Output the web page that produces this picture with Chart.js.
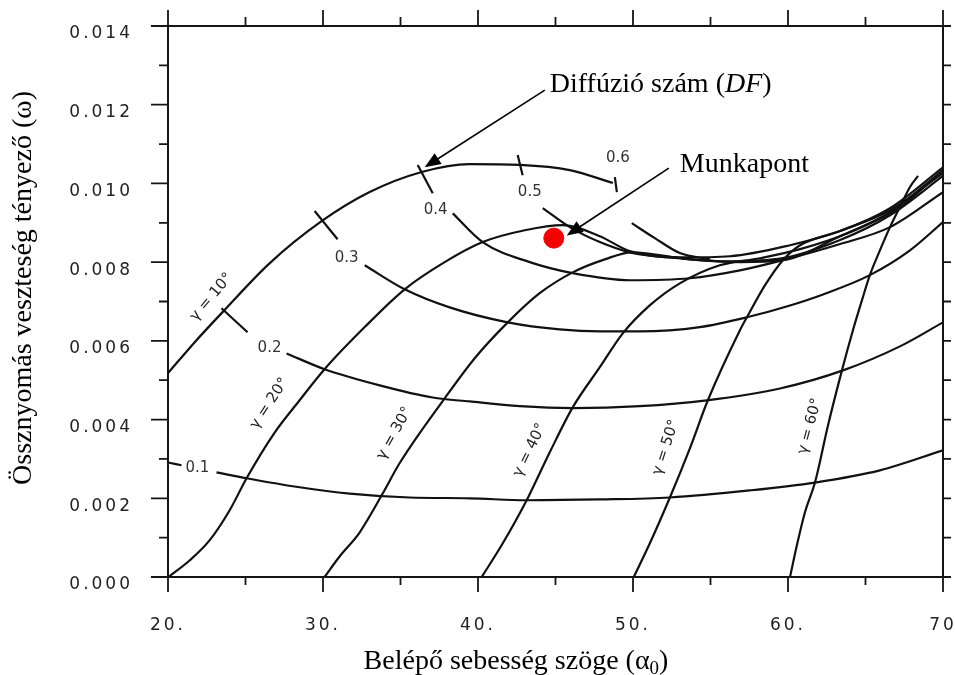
<!DOCTYPE html>
<html>
<head>
<meta charset="utf-8">
<title>Össznyomás veszteség tényező</title>
<script src="https://cdn.jsdelivr.net/npm/chart.js@4.4.1/dist/chart.umd.min.js"></script>
<style>
  html, body { margin: 0; padding: 0; background: #fff; }
</style>
</head>
<body>
<canvas id="lossChart" width="955" height="675"></canvas>
<script>
// axis ticks
const xTicks = [20, 30, 40, 50, 60, 70];
const xTickLabels = ["20.", "30.", "40.", "50.", "60.", "70"];
const yTicks = [0, 0.002, 0.004, 0.006, 0.008, 0.010, 0.012, 0.014];
const yTickLabels = ["0.000", "0.002", "0.004", "0.006", "0.008", "0.010", "0.012", "0.014"];

// stagger angle curves (gamma), alpha0 vs omega
const gamma10Alpha = [20.0, 21.71, 23.52, 26.55, 29.91, 33.01, 36.37, 39.46, 42.69, 45.92, 48.70];
const gamma10Omega = [0.00518, 0.00596, 0.00673, 0.00797, 0.00904, 0.00978, 0.01029, 0.01049, 0.01047, 0.01034, 0.01001];

const gamma20Alpha = [20.03, 21.39, 22.68, 23.97, 25.07, 26.88, 28.49, 30.10, 32.69, 35.27, 37.85, 40.30, 43.02, 45.47, 47.86, 49.79, 53.02, 56.25, 60.13, 63.36, 66.58, 70.0];
const gamma20Omega = [0, 0.00042, 0.00093, 0.00169, 0.00251, 0.00367, 0.00449, 0.00528, 0.00635, 0.00731, 0.00800, 0.00851, 0.00881, 0.00894, 0.00866, 0.00828, 0.00812, 0.00815, 0.00843, 0.00879, 0.00937, 0.01041];

const gamma30Alpha = [30.10, 31.07, 32.36, 33.85, 34.94, 37.85, 39.79, 41.92, 43.98, 46.11, 48.18, 49.92, 53.67, 56.90, 59.67, 63.36, 66.58, 70.0];
const gamma30Omega = [0, 0.00052, 0.00113, 0.00212, 0.00289, 0.00454, 0.00556, 0.00647, 0.00721, 0.00774, 0.00807, 0.00825, 0.00807, 0.00800, 0.00805, 0.00866, 0.00927, 0.01034];

const gamma40Alpha = [40.24, 41.59, 43.14, 44.63, 46.11, 47.86, 49.34, 51.08, 53.02, 55.60, 58.19, 60.78, 64.00, 67.22, 70.0];
const gamma40Omega = [0, 0.00085, 0.00195, 0.00317, 0.00431, 0.00533, 0.00619, 0.00690, 0.00746, 0.00792, 0.00810, 0.00833, 0.00876, 0.00940, 0.01034];

const gamma50Alpha = [50.05, 51.08, 52.38, 53.67, 54.83, 56.90, 57.35, 58.51, 59.67, 60.78, 63.36, 66.58, 70.0];
const gamma50Omega = [0, 0.00085, 0.00202, 0.00327, 0.00449, 0.00627, 0.00660, 0.00741, 0.00805, 0.00843, 0.00879, 0.00932, 0.01026];

const gamma60Alpha = [60.13, 60.57, 61.09, 61.74, 62.58, 63.48, 64.19, 64.77, 65.28, 65.93, 66.58, 67.22, 67.87, 68.39];
const gamma60Omega = [0, 0.00080, 0.00164, 0.00240, 0.00385, 0.00525, 0.00627, 0.00703, 0.00767, 0.00830, 0.00889, 0.00940, 0.00991, 0.01019];

// extra branch near the working point
const branchAlpha = [49.92, 51.41, 53.02, 54.96];
const branchOmega = [0.00899, 0.00861, 0.00823, 0.00807];

// diffusion factor curves (DF)
const df01Alpha = [23.13, 25.07, 28.49, 31.72, 35.59, 39.46, 43.14, 47.86, 52.38, 57.54, 61.74, 65.93, 70.0];
const df01Omega = [0.00266, 0.00251, 0.00228, 0.00212, 0.00202, 0.00200, 0.00195, 0.00197, 0.00202, 0.00220, 0.00240, 0.00271, 0.00322];

const df02Alpha = [27.65, 30.10, 33.66, 37.08, 39.46, 42.69, 46.11, 50.44, 54.76, 59.48, 63.55, 67.22, 70.0];
const df02Omega = [0.00568, 0.00528, 0.00487, 0.00456, 0.00446, 0.00434, 0.00429, 0.00434, 0.00449, 0.00479, 0.00525, 0.00586, 0.00647];

const df03Alpha = [32.69, 35.27, 38.17, 41.92, 45.27, 47.86, 50.44, 54.31, 57.35, 60.13, 62.26, 65.28, 67.87, 70.0];
const df03Omega = [0.00792, 0.00731, 0.00685, 0.00647, 0.00629, 0.00624, 0.00624, 0.00635, 0.00660, 0.00690, 0.00718, 0.00767, 0.00830, 0.00902];

const df04Alpha = [38.37, 40.30, 43.34, 46.11, 49.79, 53.67, 56.90, 59.67, 63.36, 66.58, 70.0];
const df04Omega = [0.00924, 0.00851, 0.00800, 0.00772, 0.00754, 0.00759, 0.00779, 0.00805, 0.00846, 0.00889, 0.00978];

const df05Alpha = [44.18, 45.92, 47.86, 49.79, 53.02, 56.25, 59.67, 63.36, 66.58, 70.0];
const df05Omega = [0.00937, 0.00889, 0.00851, 0.00825, 0.00810, 0.00802, 0.00810, 0.00856, 0.00919, 0.01019];

// short DF marks crossing the gamma = 10 curve: [a0, w0, a1, w1]
const dfMarks = [
  [20.0, 0.00291, 20.87, 0.00284],
  [23.45, 0.00683, 25.13, 0.00622],
  [29.46, 0.00930, 30.94, 0.00858],
  [36.11, 0.01047, 37.08, 0.00975],
  [42.56, 0.01072, 42.88, 0.01021],
  [48.83, 0.01016, 48.96, 0.00978]
];

// curve labels
const dfLabels = ["0.1", "0.2", "0.3", "0.4", "0.5", "0.6"];
const dfLabelAlpha = [21.90, 26.55, 31.52, 37.27, 43.34, 49.02];
const dfLabelOmega = [0.00276, 0.00581, 0.00810, 0.00932, 0.00978, 0.01064];

const gammaLabels = ["γ = 10°", "γ = 20°", "γ = 30°", "γ = 40°", "γ = 50°", "γ = 60°"];
const gammaLabelAlpha = [22.81, 26.55, 34.62, 43.34, 52.12, 61.42];
const gammaLabelOmega = [0.00711, 0.00441, 0.00365, 0.00322, 0.00329, 0.00383];
const gammaLabelAngle = [-50, -57, -61, -64, -72, -75];

// working point
const workAlpha = [44.89];
const workOmega = [0.00861];

const pts = (xs, ys) => xs.map((x, i) => ({ x: x, y: ys[i] }));

function curve(label, xs, ys) {
    return {
        label: label,
        data: pts(xs, ys),
        showLine: true,
        borderColor: "#111",
        borderWidth: 2.2,
        pointRadius: 0,
        cubicInterpolationMode: "monotone",
        fill: false
    };
}

function drawArrow(ctx, x0, y0, x1, y1) {
    const ang = Math.atan2(y1 - y0, x1 - x0);
    const len = 16, half = 6.5;
    const c = Math.cos(ang), s = Math.sin(ang);
    ctx.beginPath();
    ctx.moveTo(x0, y0);
    ctx.lineTo(x1 - len * 0.7 * c, y1 - len * 0.7 * s);
    ctx.stroke();
    ctx.beginPath();
    ctx.moveTo(x1, y1);
    ctx.lineTo(x1 - len * c + half * s, y1 - len * s - half * c);
    ctx.lineTo(x1 - len * c - half * s, y1 - len * s + half * c);
    ctx.closePath();
    ctx.fill();
}

// drop the extra room Chart.js keeps for half-labels, the frame is fixed
function fixPadding(s) {
    s.paddingLeft = 0;
    s.paddingRight = 0;
    s.paddingTop = 0;
    s.paddingBottom = 0;
}

const framePlugin = {
    id: "framePlugin",
    beforeDraw(chart) {
        chart.ctx.letterSpacing = "3px";
    },
    beforeDatasetsDraw(chart) {
        const { ctx, chartArea: a, scales: { x, y } } = chart;
        ctx.letterSpacing = "0px";
        ctx.save();
        ctx.strokeStyle = "#151515";
        ctx.lineWidth = 2;
        ctx.strokeRect(a.left, a.top, a.right - a.left, a.bottom - a.top);
        ctx.lineWidth = 1.8;
        ctx.beginPath();
        for (let v = 20; v <= 70; v += 5) {
            const px = x.getPixelForValue(v);
            const major = v % 10 === 0;
            ctx.moveTo(px, a.bottom);
            ctx.lineTo(px, a.bottom + (major ? 15 : 8));
            ctx.moveTo(px, a.top);
            ctx.lineTo(px, a.top - (major ? 16 : 9));
        }
        for (let k = 0; k <= 14; k++) {
            const py = y.getPixelForValue(k / 1000);
            ctx.moveTo(a.left, py);
            ctx.lineTo(a.left - (k % 2 === 0 ? 17 : 9), py);
            ctx.moveTo(a.right, py);
            ctx.lineTo(a.right + 8, py);
        }
        ctx.stroke();
        ctx.restore();
    },
    afterDatasetsDraw(chart) {
        const { ctx, scales: { x, y } } = chart;
        ctx.save();

        // DF labels
        ctx.font = '15px "DejaVu Sans"';
        ctx.fillStyle = "#333";
        ctx.textAlign = "center";
        ctx.textBaseline = "middle";
        dfLabels.forEach((t, i) => {
            ctx.fillText(t, x.getPixelForValue(dfLabelAlpha[i]), y.getPixelForValue(dfLabelOmega[i]));
        });

        // gamma labels, rotated along the curves
        ctx.font = '15px "DejaVu Sans"';
        ctx.fillStyle = "#222";
        gammaLabels.forEach((t, i) => {
            ctx.save();
            ctx.translate(x.getPixelForValue(gammaLabelAlpha[i]), y.getPixelForValue(gammaLabelOmega[i]));
            ctx.rotate(gammaLabelAngle[i] * Math.PI / 180);
            ctx.fillText(t, 0, 0);
            ctx.restore();
        });

        // annotations with arrows
        ctx.strokeStyle = "#000";
        ctx.fillStyle = "#000";
        ctx.lineWidth = 1.6;
        drawArrow(ctx, x.getPixelForValue(44.31), y.getPixelForValue(0.01237),
            x.getPixelForValue(36.56), y.getPixelForValue(0.01041));
        drawArrow(ctx, x.getPixelForValue(52.31), y.getPixelForValue(0.01039),
            x.getPixelForValue(45.73), y.getPixelForValue(0.00868));

        ctx.textAlign = "left";
        ctx.textBaseline = "alphabetic";
        let tx = x.getPixelForValue(44.63);
        const ty = y.getPixelForValue(0.01232);
        ctx.font = '28px "Liberation Serif"';
        const part1 = "Diffúzió szám (";
        ctx.fillText(part1, tx, ty);
        tx += ctx.measureText(part1).width;
        ctx.font = 'italic 28px "Liberation Serif"';
        ctx.fillText("DF", tx, ty);
        tx += ctx.measureText("DF").width;
        ctx.font = '28px "Liberation Serif"';
        ctx.fillText(")", tx, ty);

        ctx.fillText("Munkapont", x.getPixelForValue(53.02), y.getPixelForValue(0.01029));

        // axis titles
        ctx.font = '28px "Liberation Serif"';
        ctx.save();
        ctx.translate(24, 288);
        ctx.rotate(-Math.PI / 2);
        ctx.textAlign = "center";
        ctx.textBaseline = "middle";
        ctx.fillText("Össznyomás veszteség tényező (ω)", 0, 0);
        ctx.restore();

        const main = "Belépő sebesség szöge (α";
        ctx.font = '28px "Liberation Serif"';
        const w1 = ctx.measureText(main).width;
        ctx.font = '19px "Liberation Serif"';
        const w2 = ctx.measureText("0").width;
        ctx.font = '28px "Liberation Serif"';
        const w3 = ctx.measureText(")").width;
        let bx = 516 - (w1 + w2 + w3) / 2;
        const by = 669;
        ctx.fillText(main, bx, by);
        bx += w1;
        ctx.font = '19px "Liberation Serif"';
        ctx.fillText("0", bx, by + 5);
        bx += w2;
        ctx.font = '28px "Liberation Serif"';
        ctx.fillText(")", bx, by);

        ctx.restore();
    }
};

const datasets = [
    {
        label: "Munkapont",
        data: pts(workAlpha, workOmega),
        pointRadius: 10,
        pointBackgroundColor: "#f50000",
        pointBorderColor: "#f50000",
        showLine: false
    },
    curve("γ = 10°", gamma10Alpha, gamma10Omega),
    curve("γ = 20°", gamma20Alpha, gamma20Omega),
    curve("γ = 30°", gamma30Alpha, gamma30Omega),
    curve("γ = 40°", gamma40Alpha, gamma40Omega),
    curve("γ = 50°", gamma50Alpha, gamma50Omega),
    curve("γ = 60°", gamma60Alpha, gamma60Omega),
    curve("branch", branchAlpha, branchOmega),
    curve("DF 0.1", df01Alpha, df01Omega),
    curve("DF 0.2", df02Alpha, df02Omega),
    curve("DF 0.3", df03Alpha, df03Omega),
    curve("DF 0.4", df04Alpha, df04Omega),
    curve("DF 0.5", df05Alpha, df05Omega)
];

dfMarks.forEach((m, i) => {
    datasets.push(curve("mark " + i, [m[0], m[2]], [m[1], m[3]]));
});

new Chart(document.getElementById("lossChart"), {
    type: "scatter",
    data: { datasets: datasets },
    options: {
        responsive: false,
        animation: false,
        devicePixelRatio: 1,
        layout: { padding: { left: 0, top: 26, right: 12, bottom: 0 } },
        plugins: {
            legend: { display: false },
            tooltip: { enabled: false }
        },
        scales: {
            x: {
                type: "linear",
                position: "bottom",
                min: 20,
                max: 70,
                afterFit: (s) => { s.height = 98; fixPadding(s); },
                afterBuildTicks: (s) => { s.ticks = xTicks.map(v => ({ value: v })); },
                ticks: {
                    callback: (v, i) => xTickLabels[i],
                    font: { family: "DejaVu Sans", size: 17 },
                    color: "#222",
                    padding: 38,
                    maxRotation: 0,
                    autoSkip: false
                },
                grid: { display: false, drawTicks: false },
                border: { display: false }
            },
            y: {
                type: "linear",
                position: "left",
                min: 0,
                max: 0.014,
                afterFit: (s) => { s.width = 168; fixPadding(s); },
                afterBuildTicks: (s) => { s.ticks = yTicks.map(v => ({ value: v })); },
                ticks: {
                    callback: (v, i) => yTickLabels[i],
                    font: { family: "DejaVu Sans", size: 17 },
                    color: "#222",
                    padding: 35,
                    labelOffset: 8,
                    autoSkip: false
                },
                grid: { display: false, drawTicks: false },
                border: { display: false }
            }
        }
    },
    plugins: [framePlugin]
});
</script>
</body>
</html>
